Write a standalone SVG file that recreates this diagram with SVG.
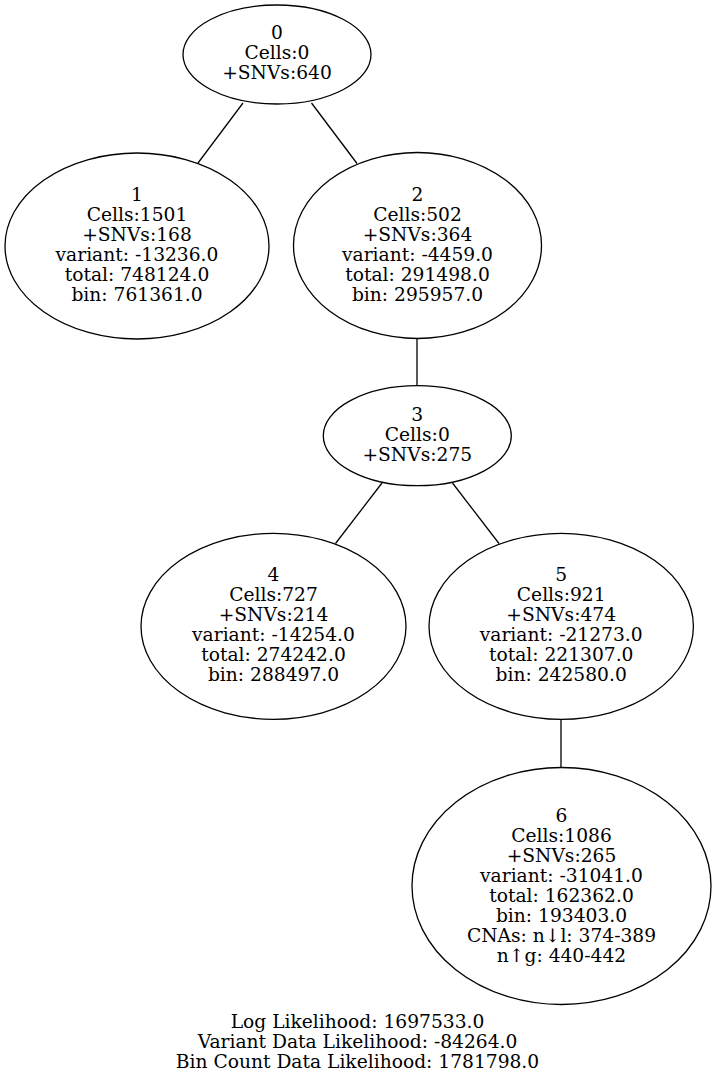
<svg xmlns="http://www.w3.org/2000/svg" width="716" height="1079" viewBox="0 0 716 1079">
<style>
.n ellipse{fill:none;stroke:#000;stroke-width:1.3}
text{font-family:"DejaVu Serif","Liberation Serif",serif;font-size:18.67px;fill:#000;text-anchor:middle}
#edges line{stroke:#000;stroke-width:1.3}
</style>
<rect width="716" height="1079" fill="#fff"/>
<g id="edges">
<line x1="243" y1="103" x2="198" y2="163"/>
<line x1="311.5" y1="103" x2="357" y2="163.5"/>
<line x1="417" y1="338" x2="417" y2="386"/>
<line x1="382" y1="483" x2="335.5" y2="543.5"/>
<line x1="452.5" y1="483" x2="499" y2="543.5"/>
<line x1="561" y1="719" x2="561" y2="767"/>
</g>
<g id="node0" class="n">
<ellipse cx="277" cy="54.5" rx="94" ry="49.5"/>
<text x="277" y="39.3">0</text>
<text x="277" y="59.3">Cells:0</text>
<text x="277" y="79.3">+SNVs:640</text>
</g>
<g id="node1" class="n">
<ellipse cx="137" cy="246" rx="132" ry="93"/>
<text x="137" y="201">1</text>
<text x="137" y="221">Cells:1501</text>
<text x="137" y="241">+SNVs:168</text>
<text x="137" y="261">variant: -13236.0</text>
<text x="137" y="281">total: 748124.0</text>
<text x="137" y="301">bin: 761361.0</text>
</g>
<g id="node2" class="n">
<ellipse cx="417.5" cy="245.5" rx="124" ry="93"/>
<text x="417.5" y="201">2</text>
<text x="417.5" y="221">Cells:502</text>
<text x="417.5" y="241">+SNVs:364</text>
<text x="417.5" y="261">variant: -4459.0</text>
<text x="417.5" y="281">total: 291498.0</text>
<text x="417.5" y="301">bin: 295957.0</text>
</g>
<g id="node3" class="n">
<ellipse cx="417.3" cy="435.7" rx="94" ry="50"/>
<text x="417.3" y="420.7">3</text>
<text x="417.3" y="440.7">Cells:0</text>
<text x="417.3" y="460.7">+SNVs:275</text>
</g>
<g id="node4" class="n">
<ellipse cx="273.5" cy="626.3" rx="132.5" ry="93"/>
<text x="273.5" y="581">4</text>
<text x="273.5" y="601">Cells:727</text>
<text x="273.5" y="621">+SNVs:214</text>
<text x="273.5" y="641">variant: -14254.0</text>
<text x="273.5" y="661">total: 274242.0</text>
<text x="273.5" y="681">bin: 288497.0</text>
</g>
<g id="node5" class="n">
<ellipse cx="561.2" cy="626.3" rx="132.2" ry="93"/>
<text x="561.2" y="581">5</text>
<text x="561.2" y="601">Cells:921</text>
<text x="561.2" y="621">+SNVs:474</text>
<text x="561.2" y="641">variant: -21273.0</text>
<text x="561.2" y="661">total: 221307.0</text>
<text x="561.2" y="681">bin: 242580.0</text>
</g>
<g id="node6" class="n">
<ellipse cx="561.5" cy="886" rx="149.5" ry="118.5"/>
<text x="561.5" y="821.7">6</text>
<text x="561.5" y="841.7">Cells:1086</text>
<text x="561.5" y="861.7">+SNVs:265</text>
<text x="561.5" y="881.7">variant: -31041.0</text>
<text x="561.5" y="901.7">total: 162362.0</text>
<text x="561.5" y="921.7">bin: 193403.0</text>
<text x="561.5" y="941.7">CNAs: n↓l: 374-389</text>
<text x="561.5" y="961.7">n↑g: 440-442</text>
</g>
<g id="footer">
<text x="357.5" y="1027.7">Log Likelihood: 1697533.0</text>
<text x="357.5" y="1047.7">Variant Data Likelihood: -84264.0</text>
<text x="357.5" y="1067.7">Bin Count Data Likelihood: 1781798.0</text>
</g>
</svg>
